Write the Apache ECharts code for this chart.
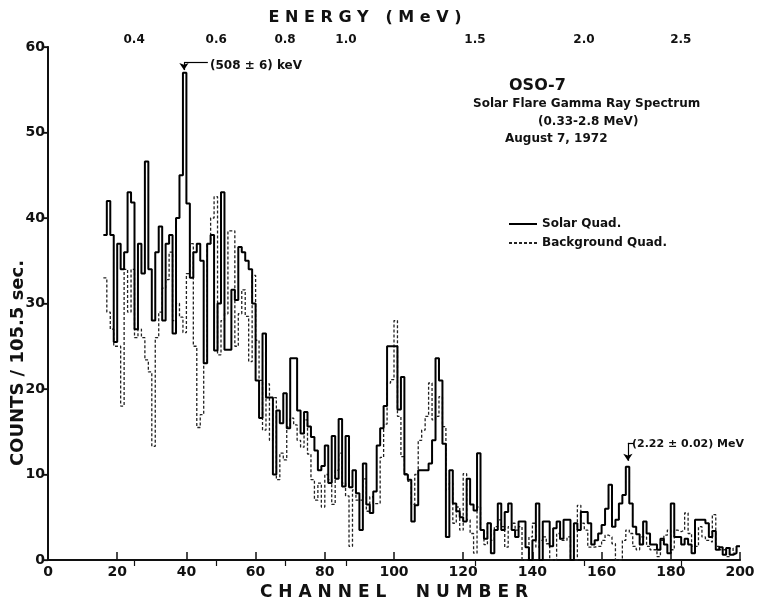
<!DOCTYPE html>
<html><head><meta charset="utf-8">
<script src="https://cdn.jsdelivr.net/npm/echarts@6/dist/echarts.min.js"></script>
<style>html,body{margin:0;padding:0;background:#fff}#c{width:758px;height:597px}</style>
</head><body><div id="c"></div>
<script>
// first channel of both histograms
const startChannel = 16;
// Solar quadrant counts per channel (channels 16..199)
const solarCounts = [
38,42,38,25.5,37,34,36,43,41.8,27,
37,33.5,46.6,34,28,36,39,28,37,38,
26.5,40,45,57,41.7,33,36,37,35,23,
37,38,24.5,30,43,24.6,24.6,31.6,30.4,36.6,
36,35,34,30,21,16.6,26.5,19,19,10,
17.5,16,19.5,15.4,23.6,23.6,17.5,14.8,17.3,15.6,
14.4,12.8,10.5,11,13.4,9,14.5,9.5,16.5,8.6,
14.5,8.5,10.5,7.8,3.5,11.3,6.5,5.5,8,13.4,
15.4,18,25,25,25,17.6,21.4,10,9.4,4.5,
6.4,10.5,10.5,10.5,11.3,14,23.6,21,13.6,2.7,
10.5,6.6,5.7,5,4.5,9.5,6.5,5.8,12.5,3.5,
2.5,4.3,0.8,3.5,6.6,3.5,5.6,6.6,3.5,2.7,
4.5,4.5,1.5,0,2.3,6.6,0,4.5,4.5,1.6,
3.7,4.5,2.5,4.7,4.7,0,4.3,3.5,5.6,5.6,
4.3,1.8,2.3,3.1,4.1,6,8.8,3.9,4.7,6.6,
7.6,10.9,6.6,3.9,3,1.8,4.5,3.1,1.8,1.8,
1.2,2.5,1.8,0.8,6.6,2.7,2.7,1.8,2.5,1.8,
0.8,4.7,4.7,4.7,4.3,2.7,3.4,1.2,1.5,0.6,
1.4,0.6,0.8,1.6
];
// Background quadrant counts per channel (channels 16..199)
const backgroundCounts = [
33,29,27,25,25,18,34,29,34,26,
27,26,23.4,22,13.3,26,29,31.8,32.8,36,
28,30,28.4,26.6,33.5,37,25,15.5,17,23,
37,40,42.5,24,28,28.8,38.5,38.5,25,28.8,
31.6,28.5,23.2,33.3,25.7,21,15.2,20.6,14,19,
9.4,12.5,11.7,15.6,16.6,15.8,14,13.2,16.4,12.4,
9.4,7,9,6.2,10,9.4,6.5,10.5,12.5,9,
7.5,1.6,8.2,7,7,9.5,5.7,7.4,6.6,6.6,
12,15.9,20.7,21.1,28,16.8,12.1,10.1,9.2,6.5,
10,14,15.2,16.8,20.7,16.4,16.8,19.1,15.6,8.2,
9,4.3,6.2,3.5,10.1,4.7,3.1,0.8,6.2,3.5,
1.8,4.3,2.3,3.9,4.7,3.9,1.5,3.9,4.3,3.5,
3.9,0,0,2.7,4.3,1.5,2.3,2.7,1.9,0,
0,3.1,2.3,2.3,2.7,0,0,6.4,4.3,3.5,
1.5,1.5,1.6,1.6,2.3,2.9,2.7,1.9,0,0,
2.3,3.5,3.1,1.6,1.2,2.7,2.7,1.6,1.2,1.2,
0.4,2.3,2.9,3.5,1.2,3.5,3.3,3.5,5.5,3.1,
1.6,1.6,3.9,2.7,2.3,2.1,5.3,1.6,1.2,1.2,
0.4,1.4,0.8,1.6
];
// bottom axis ticks (channel number)
const channelTicks = [0,20,40,60,80,100,120,140,160,180,200];
// top axis: energy labels and the channel at which each sits
const energyLabels = ['0.4','0.6','0.8','1.0','1.5','2.0','2.5'];
const energyChannels = [24.9,48.6,68.5,86.1,123.4,154.9,182.9];
const countTicks = [0,10,20,30,40,50,60];

const FONT = 'DejaVu Sans';
function toSteps(vals){
  const d = vals.map((v,i)=>[startChannel+i, v]);
  d.push([startChannel+vals.length, vals[vals.length-1]]);
  return d;
}
const chart = echarts.init(document.getElementById('c'), null, {renderer:'canvas'});
const axisColor = '#111';
chart.setOption({
  animation:false,
  backgroundColor:'#fff',
  grid:{left:48,right:18,top:47,bottom:37,containLabel:false,outerBoundsMode:'none'},
  legend:{
    orient:'vertical', left:503, top:213, itemWidth:28, itemHeight:10, itemGap:7,
    itemStyle:{opacity:0},
    textStyle:{fontFamily:FONT,fontSize:12,fontWeight:'bold',color:'#111'},
    data:['Solar Quad.','Background Quad.']
  },
  xAxis:[{
    type:'value', position:'bottom', min:0, max:200, interval:20,
    axisLine:{lineStyle:{color:axisColor,width:2}},
    axisTick:{inside:true,length:8,lineStyle:{color:axisColor,width:1.5}},
    axisLabel:{margin:5,fontFamily:FONT,fontSize:14,fontWeight:'bold',color:'#111',
      formatter:function(v){return channelTicks.indexOf(v)>=0?String(v):'';}},
    splitLine:{show:false},
    name:'C H A N N E L     N U M B E R', nameLocation:'middle', nameGap:21,
    nameTextStyle:{fontFamily:FONT,fontSize:17,fontWeight:'bold',color:'#111'}
  },{
    type:'value', position:'top', min:0, max:200,
    axisLine:{show:true,lineStyle:{color:axisColor,width:1.5}},
    axisTick:{show:true,inside:true,length:6,customValues:energyChannels,lineStyle:{color:axisColor,width:1.2}},
    axisLabel:{show:true,customValues:energyChannels,margin:1,fontFamily:FONT,fontSize:12,fontWeight:'bold',color:'#111',
      formatter:function(v){const i=energyChannels.indexOf(v);return i>=0?energyLabels[i]:'';}},
    splitLine:{show:false}
  }],
  yAxis:[{
    type:'value', position:'left', min:0, max:60, interval:10,
    axisLine:{show:true,lineStyle:{color:axisColor,width:2}},
    axisTick:{show:true,inside:false,length:5,lineStyle:{color:axisColor,width:1.5}},
    axisLabel:{margin:3,fontFamily:FONT,fontSize:14,fontWeight:'bold',color:'#111',
      formatter:function(v){return countTicks.indexOf(v)>=0?String(v):'';}},
    splitLine:{show:false}
  },{
    type:'value', position:'right', min:0, max:60, interval:10,
    axisLine:{show:true,lineStyle:{color:axisColor,width:1.5}},
    axisTick:{show:true,inside:true,length:6,lineStyle:{color:axisColor,width:1.2}},
    axisLabel:{show:false},
    splitLine:{show:false}
  }],
  series:[{
    name:'Background Quad.', type:'line', step:'end', symbol:'none',
    xAxisIndex:0, yAxisIndex:0, color:'#222',
    itemStyle:{color:'#222'},
    lineStyle:{color:'#222',width:1.3,type:[3,2]},
    data:toSteps(backgroundCounts), z:2
  },{
    name:'Solar Quad.', type:'line', step:'end', symbol:'none',
    xAxisIndex:0, yAxisIndex:0, color:'#000',
    itemStyle:{color:'#000'},
    lineStyle:{color:'#000',width:2},
    data:toSteps(solarCounts), z:3,
    markLine:{
      silent:true, symbol:['none','none'], symbolSize:7,
      label:{show:false},
      lineStyle:{color:'#000',width:1.2,type:'solid'},
      data:[
        [{coord:[46.2,58.2]},{coord:[39.3,58.2]}],
        [{coord:[39.3,58.2],symbol:'none'},{coord:[39.3,57.3],symbol:'arrow'}],
        [{coord:[169.1,13.7]},{coord:[167.6,13.7]}],
        [{coord:[167.6,13.7],symbol:'none'},{coord:[167.6,11.6],symbol:'arrow'}]
      ]
    }
  }],
  graphic:[
    {type:'text',x:365,y:18,style:{text:'E N E R G Y   ( M e V )',font:'bold 16px "DejaVu Sans"',fill:'#111',align:'center',verticalAlign:'middle'}},
    {type:'text',left:210,top:60,style:{text:'(508 ± 6) keV',font:'bold 12px "DejaVu Sans"',fill:'#111'}},
    {type:'text',left:632,top:439,style:{text:'(2.22 ± 0.02) MeV',font:'bold 11px "DejaVu Sans"',fill:'#111'}},
    {type:'text',left:509,top:78,style:{text:'OSO-7',font:'bold 16px "DejaVu Sans"',fill:'#111'}},
    {type:'text',left:473,top:98,style:{text:'Solar Flare Gamma Ray Spectrum',font:'bold 12px "DejaVu Sans"',fill:'#111'}},
    {type:'text',left:538,top:116,style:{text:'(0.33-2.8 MeV)',font:'bold 12px "DejaVu Sans"',fill:'#111'}},
    {type:'text',left:505,top:133,style:{text:'August 7, 1972',font:'bold 12px "DejaVu Sans"',fill:'#111'}},
    {type:'text',x:18,y:363,rotation:Math.PI/2,
      style:{text:'COUNTS / 105.5 sec.',font:'bold 18px "DejaVu Sans"',fill:'#111',align:'center',verticalAlign:'middle'}}
  ]
});
</script></body></html>
